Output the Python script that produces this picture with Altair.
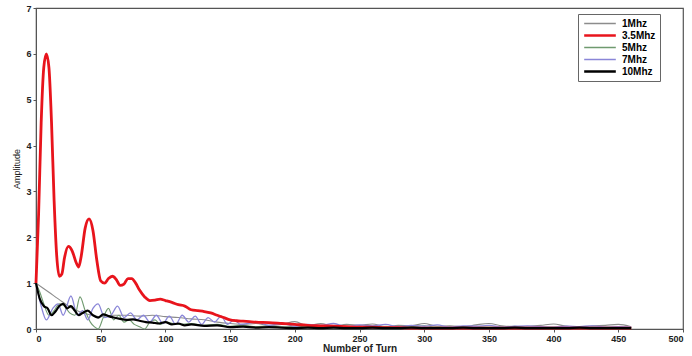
import altair as alt
import pandas as pd

series_names = ["1Mhz", "3.5Mhz", "5Mhz", "7Mhz", "10Mhz"]
series_colors = ["#8c8c8c", "#e8141c", "#6f9a6f", "#8a86d8", "#000000"]
series_widths = [1.1, 2.8, 1.1, 1.3, 2.2]

tail_x = list(range(170, 461, 10))

gray_x = [0, 10, 20, 30, 40, 50, 60, 70, 80, 90, 100, 110, 120, 130, 140, 150, 160] + tail_x
gray_y = [1.0, 0.8, 0.6, 0.42, 0.32, 0.27, 0.3, 0.3, 0.28, 0.3, 0.27, 0.25, 0.22, 0.2, 0.15, 0.12, 0.1,
          0.12, 0.08, 0.1, 0.16, 0.07, 0.12, 0.06, 0.1, 0.08, 0.11, 0.05, 0.08, 0.07, 0.12, 0.06,
          0.07, 0.05, 0.09, 0.12, 0.07, 0.05, 0.06, 0.08, 0.11, 0.06, 0.05, 0.07, 0.08, 0.1, 0.05]

red_x = [0, 2, 4, 6, 8, 10, 12, 14, 16, 18, 20, 22, 25, 28, 31, 33, 35, 38, 41, 44, 47, 50, 53, 56, 59,
         62, 65, 68, 71, 74, 77, 80, 84, 88, 92, 96, 100, 105, 110, 115, 120, 125, 130, 135, 140, 145,
         150, 155, 160, 165, 170, 180, 190, 200, 210, 220, 230, 240, 250, 260, 270, 280, 290, 300,
         320, 340, 360, 380, 400, 420, 440, 460]
red_y = [1.0, 2.5, 4.5, 5.7, 6.0, 5.7, 4.5, 2.8, 1.6, 1.15, 1.2, 1.55, 1.8, 1.7, 1.45, 1.35, 1.6, 2.2,
         2.4, 2.15, 1.5, 1.05, 1.0, 1.1, 1.15, 1.08, 0.95, 0.98, 1.1, 1.1, 1.0, 0.85, 0.7, 0.62, 0.63,
         0.65, 0.62, 0.58, 0.53, 0.5, 0.42, 0.4, 0.38, 0.35, 0.3, 0.25, 0.2, 0.18, 0.17, 0.16, 0.15,
         0.14, 0.12, 0.1, 0.08, 0.07, 0.06, 0.05, 0.04, 0.04, 0.03, 0.03, 0.02, 0.02,
         0.02, 0.02, 0.02, 0.02, 0.02, 0.02, 0.02, 0.02]

green_x = [0, 3, 6, 10, 14, 18, 22, 26, 30, 34, 38, 42, 45, 48, 52, 56, 60, 64, 68, 72, 76, 80, 84,
           88, 92, 96, 100, 110, 120, 130, 140, 150, 160] + tail_x
green_y = [1.0, 0.8, 0.55, 0.3, 0.4, 0.55, 0.5, 0.35, 0.3, 0.7, 0.4, 0.15, 0.05, 0.0, 0.25, 0.45,
           0.2, 0.3, 0.15, 0.2, 0.1, 0.05, 0.0, 0.15, 0.2, 0.1, 0.15, 0.1, 0.12, 0.08, 0.1, 0.06, 0.08,
           0.05, 0.07, 0.04, 0.06, 0.05, 0.08, 0.04, 0.06, 0.05, 0.03, 0.06, 0.04, 0.05, 0.07, 0.04,
           0.05, 0.03, 0.06, 0.04, 0.05, 0.06, 0.03, 0.05, 0.04, 0.06, 0.03, 0.05, 0.04, 0.05, 0.03]

blue_x = [0, 4, 8, 13, 17, 21, 27, 32, 36, 40, 44, 48, 53, 58, 63, 68, 73, 78, 83, 88, 93, 98, 103,
          108, 113, 118, 123, 128, 133, 138, 143, 148, 153, 158] + tail_x
blue_y = [1.0, 0.5, 0.2, 0.45, 0.55, 0.3, 0.72, 0.3, 0.4, 0.2, 0.45, 0.55, 0.25, 0.3, 0.5, 0.25,
          0.35, 0.2, 0.3, 0.15, 0.3, 0.12, 0.28, 0.1, 0.3, 0.15, 0.28, 0.1, 0.25, 0.15, 0.28, 0.1,
          0.2, 0.1,
          0.15, 0.08, 0.12, 0.06, 0.1, 0.08, 0.12, 0.05, 0.09, 0.07, 0.1, 0.05, 0.08, 0.06, 0.09,
          0.04, 0.07, 0.06, 0.08, 0.04, 0.06, 0.07, 0.05, 0.04, 0.06, 0.05, 0.07, 0.04, 0.05, 0.04]

black_x = [0, 3, 6, 9, 12, 15, 18, 21, 24, 27, 30, 33, 36, 40, 44, 48, 52, 56, 60, 65, 70, 75, 80,
           85, 90, 95, 100, 105, 110, 115, 120, 130, 140, 150, 160] + tail_x
black_y = [1.0, 0.65, 0.5, 0.45, 0.3, 0.38, 0.5, 0.55, 0.45, 0.5, 0.4, 0.3, 0.35, 0.4, 0.3, 0.25,
           0.32, 0.28, 0.25, 0.22, 0.2, 0.21, 0.18, 0.15, 0.14, 0.12, 0.15, 0.1, 0.12, 0.08, 0.1,
           0.07, 0.08, 0.04, 0.05,
           0.03, 0.04, 0.03, 0.02, 0.03, 0.02, 0.03, 0.02, 0.02, 0.03, 0.02, 0.02, 0.03, 0.02, 0.02,
           0.02, 0.03, 0.02, 0.02, 0.02, 0.03, 0.02, 0.02, 0.02, 0.02, 0.03, 0.02, 0.02, 0.02, 0.02]

x_ticks = list(range(0, 501, 50))
y_ticks = [0, 1, 2, 3, 4, 5, 6, 7]

series_data = {"1Mhz": (gray_x, gray_y), "3.5Mhz": (red_x, red_y), "5Mhz": (green_x, green_y),
               "7Mhz": (blue_x, blue_y), "10Mhz": (black_x, black_y)}
draw_order = ["1Mhz", "5Mhz", "7Mhz", "3.5Mhz", "10Mhz"]

color_scale = alt.Scale(domain=series_names, range=series_colors)
width_of = dict(zip(series_names, series_widths))

legend_width_expr = "datum.value == '3.5Mhz' ? 2.6 : datum.value == '10Mhz' ? 2.4 : 1.4"

layers = []
for name in draw_order:
    xs, ys = series_data[name]
    df = pd.DataFrame({"turn": xs, "amp": ys, "series": name})
    layers.append(
        alt.Chart(df).mark_line(interpolate="monotone", strokeWidth=width_of[name]).encode(
            x=alt.X("turn:Q", scale=alt.Scale(domain=[0, 500], nice=False),
                    axis=alt.Axis(values=x_ticks, title="Number of Turn", titleFontWeight="bold",
                                  titleFontSize=10, titlePadding=0, labelFontWeight="bold",
                                  labelFontSize=9, tickSize=3, labelPadding=2)),
            y=alt.Y("amp:Q", scale=alt.Scale(domain=[0, 7], nice=False),
                    axis=alt.Axis(values=y_ticks, title="Amplitude", titleFontWeight="normal",
                                  titleFontSize=9, titlePadding=4, labelFontWeight="bold",
                                  labelFontSize=9, tickSize=3, labelPadding=2)),
            color=alt.Color("series:N", scale=color_scale,
                            legend=alt.Legend(title=None, orient="none", legendX=542, legendY=6,
                                              symbolType="M-1,0H1", symbolSize=1000,
                                              symbolOffset=13, clipHeight=11,
                                              labelFontSize=10, labelFontWeight="bold",
                                              rowPadding=1, labelOffset=17, padding=4,
                                              strokeColor="#666666", fillColor="white",
                                              symbolStrokeWidth=alt.ExprRef(expr=legend_width_expr))),
        )
    )

chart = alt.layer(*layers).properties(
    width=647, height=321,
    padding={"left": 36, "top": 8, "right": 9, "bottom": 27},
    autosize=alt.AutoSizeParams(type="none"),
).configure_view(stroke="#555555", strokeWidth=1.2).configure_axis(
    grid=False, domainColor="#555555", tickColor="#555555", labelColor="#222222",
    titleColor="#222222", labelFont="Liberation Sans", titleFont="Liberation Sans"
).configure_legend(labelFont="Liberation Sans")

chart.save("out.html", embed_options={"renderer": "svg", "actions": False})
